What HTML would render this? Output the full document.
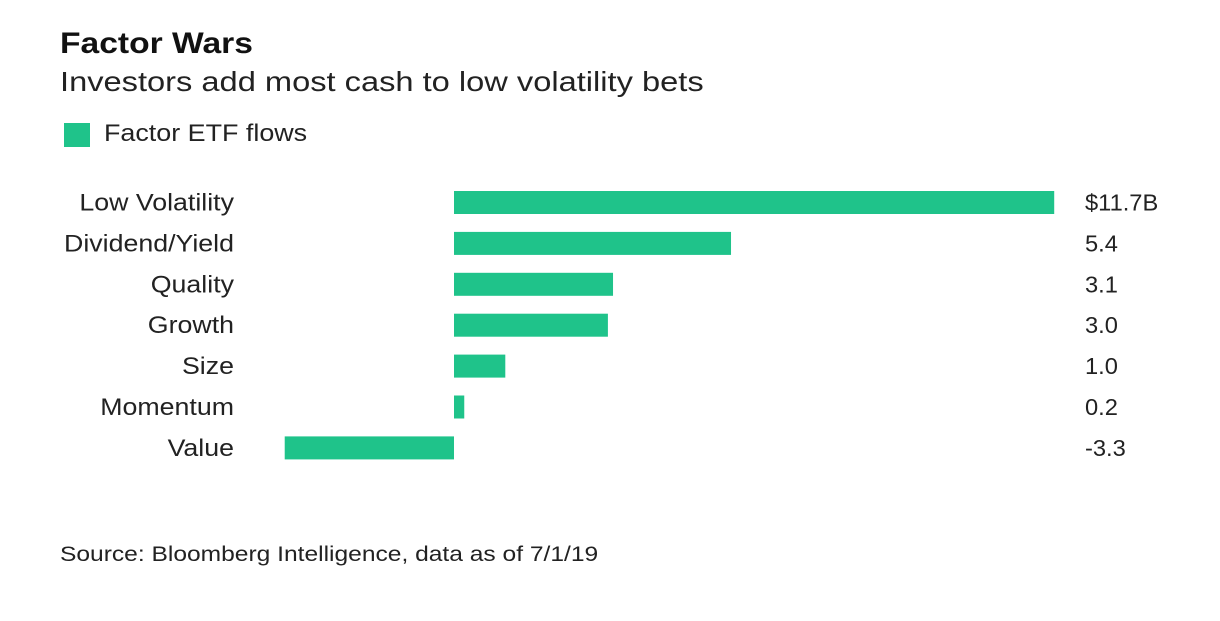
<!DOCTYPE html>
<html><head><meta charset="utf-8"><style>
body{margin:0;background:#fff;font-family:"Liberation Sans",sans-serif;color:#1a1a1a;}
#wrap{position:relative;width:1220px;height:621px;overflow:hidden;}
.t{position:absolute;white-space:nowrap;transform-origin:0 0;}
</style></head><body>
<div id="wrap">
<div class="t" style="left:60px;top:27px;font-size:30px;font-weight:bold;color:#111;transform:scaleX(1.12);">Factor Wars</div>
<div class="t" style="left:60px;top:66px;font-size:28px;color:#222;transform:scaleX(1.165);">Investors add most cash to low volatility bets</div>
<div class="t" style="left:64px;top:123px;width:26px;height:24px;background:#1fc38a;"></div>
<div class="t" style="left:104px;top:120px;font-size:24px;color:#222;transform:scaleX(1.12);">Factor ETF flows</div>
<svg id="plot" width="1220" height="621" style="position:absolute;left:0;top:0"></svg>
<div class="t" style="left:60px;top:543px;font-size:21px;color:#222;transform:scaleX(1.17);">Source: Bloomberg Intelligence, data as of 7/1/19</div>
</div>
<script>
const categories=["Low Volatility","Dividend/Yield","Quality","Growth","Size","Momentum","Value"];
const values=[11.7,5.4,3.1,3.0,1.0,0.2,-3.3];
const valueLabels=["$11.7B","5.4","3.1","3.0","1.0","0.2","-3.3"];
const ns="http://www.w3.org/2000/svg";
const svg=document.getElementById('plot');
const x0=454, pxPerUnit=51.3;
function xs(v){return x0+v*pxPerUnit;}
function yc(i){return 202.5+i*40.9;}
const bh=23;
categories.forEach((c,i)=>{
  const r=document.createElementNS(ns,'rect');
  const a=xs(Math.min(0,values[i])), b=xs(Math.max(0,values[i]));
  r.setAttribute('x',a);r.setAttribute('y',yc(i)-bh/2);
  r.setAttribute('width',b-a);r.setAttribute('height',bh);
  r.setAttribute('fill','#1fc38a');
  
  
  svg.appendChild(r);
  const t=document.createElementNS(ns,'text');
  t.setAttribute('x',0);t.setAttribute('y',0);
  t.setAttribute('transform','translate(234,'+(yc(i)+8)+') scale(1.115,1)');
  t.setAttribute('text-anchor','end');t.setAttribute('font-size','24');
  t.setAttribute('fill','#222');t.setAttribute('font-family','Liberation Sans, sans-serif');
  t.textContent=c;
  
  
  svg.appendChild(t);
  const v=document.createElementNS(ns,'text');
  v.setAttribute('x',0);v.setAttribute('y',0);
  v.setAttribute('transform','translate(1085,'+(yc(i)+8)+') scale(1.03,1)');
  v.setAttribute('font-size','23');v.setAttribute('fill','#222');
  v.setAttribute('font-family','Liberation Sans, sans-serif');
  v.textContent=valueLabels[i];
  
  
  svg.appendChild(v);
});
</script>
</body></html>
